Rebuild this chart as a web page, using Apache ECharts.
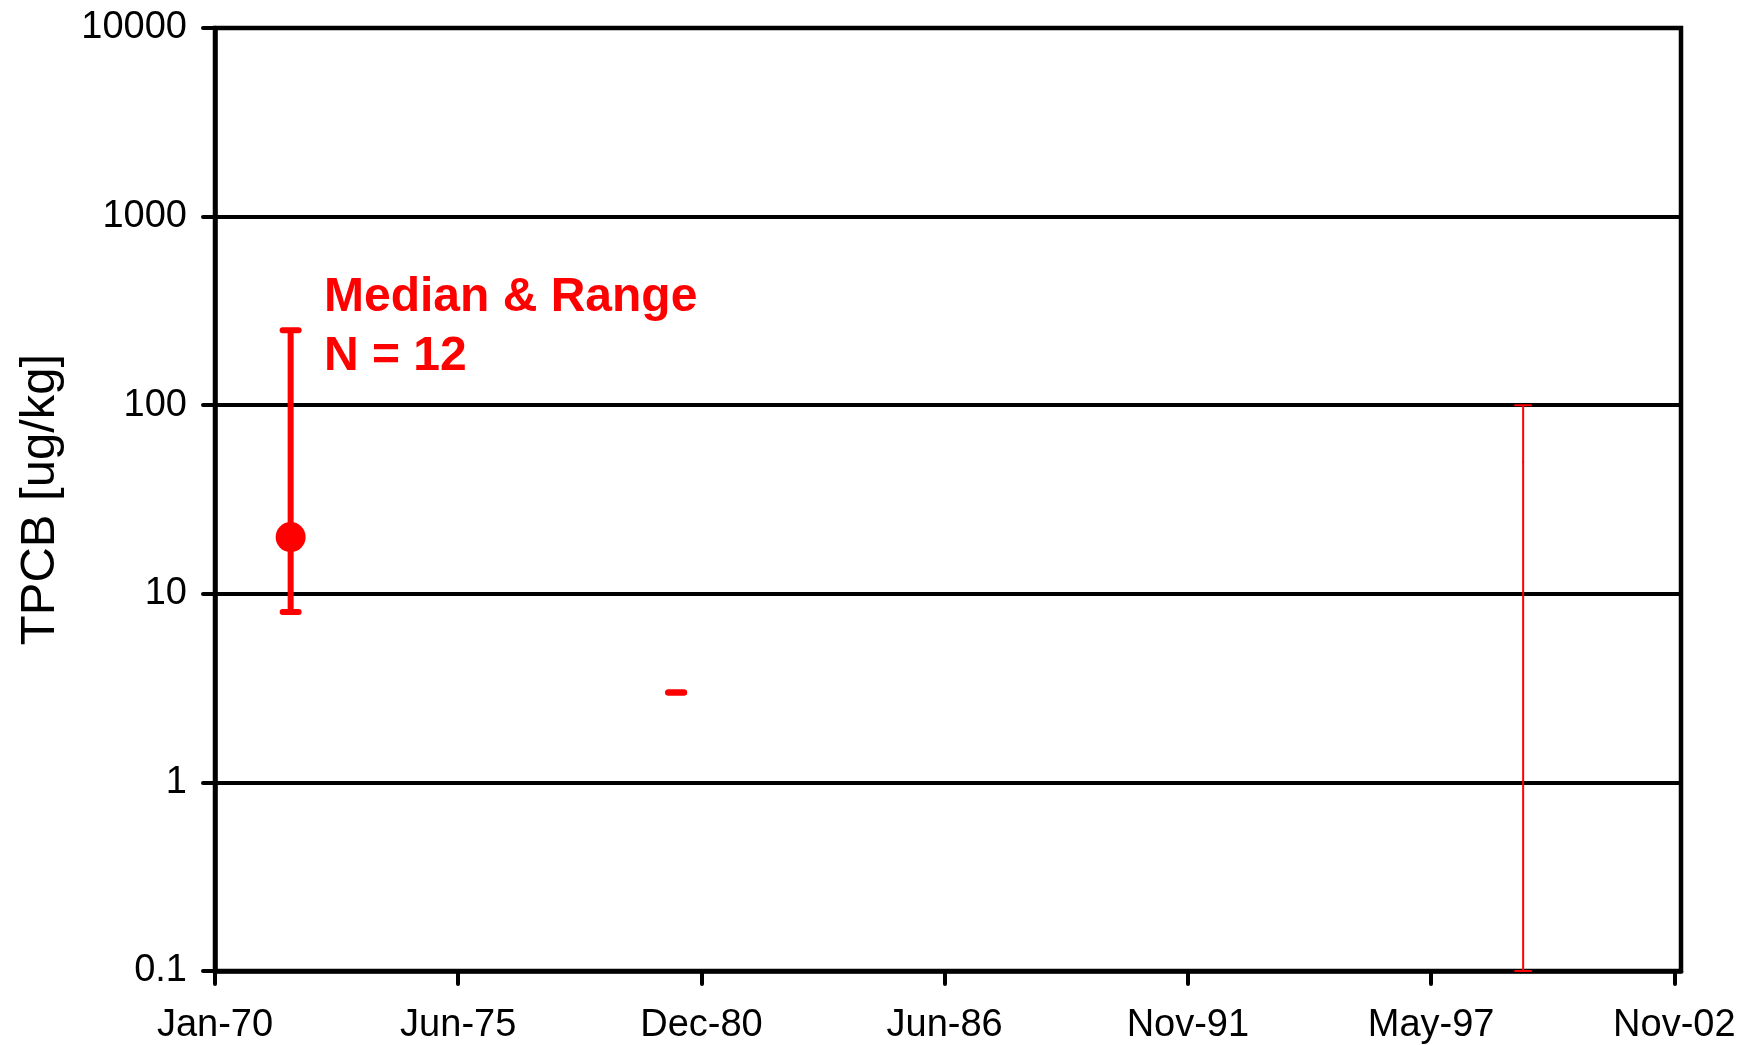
<!DOCTYPE html>
<html>
<head>
<meta charset="utf-8">
<script src="https://cdn.jsdelivr.net/npm/echarts@6/dist/echarts.min.js"></script>
<style>
html,body{margin:0;padding:0;background:#fff;}
#chart{width:1741px;height:1045px;}
</style>
</head>
<body>
<div id="chart"></div>
<script>
// ---- data ----
const sampleDates = ['1971-09-15', '1980-05-20', '1999-06-15'];
const rangeLow    = [8, 3, 0.1];
const medianVals  = [20, 3, 50];
const rangeHigh   = [250, 3, 100];
const xTickDays   = [0, 2000, 4000, 6000, 8000, 10000, 12000];
const xTickLabels = ['Jan-70', 'Jun-75', 'Dec-80', 'Jun-86', 'Nov-91', 'May-97', 'Nov-02'];
const yTickValues = [0.1, 1, 10, 100, 1000, 10000];
const yTickLabels = ['0.1', '1', '10', '100', '1000', '10000'];
const annotation  = ['Median & Range', 'N = 12'];
const yAxisTitle  = 'TPCB [ug/kg]';

// ---- helpers ----
const EPOCH = Date.UTC(1970, 0, 1);
function toDays(s) {
  const p = s.split('-').map(Number);
  return (Date.UTC(p[0], p[1] - 1, p[2]) - EPOCH) / 86400000;
}
const seriesData = sampleDates.map((d, i) => [toDays(d), rangeLow[i], medianVals[i], rangeHigh[i]]);

// per-point drawing styles (not data)
const pointStyles = [
  { lw: 6, cap: 8, r: 15 },
  { lw: 6, cap: 8, r: 0 },
  { lw: 2, cap: 8, r: 1 }
];

const chart = echarts.init(document.getElementById('chart'), null, { renderer: 'canvas' });

const option = {
  backgroundColor: '#ffffff',
  animation: false,
  grid: {
    left: 215, right: 60, top: 28, bottom: 73,
    show: true, borderColor: '#000', borderWidth: 4.5, backgroundColor: 'transparent'
  },
  xAxis: {
    type: 'value',
    min: 0,
    max: 12055,
    axisLine: { show: true, onZero: false, lineStyle: { color: '#000', width: 4.5 } },
    axisTick: {
      show: true, inside: false, length: 13,
      customValues: xTickDays,
      lineStyle: { color: '#000', width: 4, cap: 'round' }
    },
    axisLabel: {
      customValues: xTickDays,
      margin: 36,
      color: '#000',
      fontFamily: 'Liberation Sans, Arial, sans-serif',
      fontSize: 38,
      formatter: function (v) {
        const i = xTickDays.indexOf(Math.round(v));
        return i >= 0 ? xTickLabels[i] : '';
      }
    },
    splitLine: { show: false }
  },
  yAxis: {
    type: 'log',
    logBase: 10,
    min: 0.1,
    max: 10000,
    name: yAxisTitle,
    nameLocation: 'middle',
    nameRotate: 90,
    nameGap: 150,
    nameTextStyle: {
      color: '#000',
      fontFamily: 'Liberation Sans, Arial, sans-serif',
      fontSize: 49
    },
    axisLine: { show: true, lineStyle: { color: '#000', width: 4.5 } },
    axisTick: { show: true, inside: false, length: 12, lineStyle: { color: '#000', width: 4, cap: 'round' } },
    axisLabel: {
      margin: 28,
      color: '#000',
      fontFamily: 'Liberation Sans, Arial, sans-serif',
      fontSize: 38,
      formatter: function (v) {
        for (let i = 0; i < yTickValues.length; i++) {
          if (Math.abs(Math.log10(v) - Math.log10(yTickValues[i])) < 1e-6) return yTickLabels[i];
        }
        return '';
      }
    },
    splitLine: { show: true, lineStyle: { color: '#000', width: 4 } }
  },
  graphic: [{
    type: 'text',
    left: 324,
    top: 268,
    z: 100,
    style: {
      text: annotation.join('\n'),
      fill: '#ff0000',
      font: 'bold 48px "Liberation Sans", Arial, sans-serif',
      lineHeight: 59
    }
  }],
  series: [{
    type: 'custom',
    z: 10,
    clip: false,
    data: seriesData,
    renderItem: function (params, api) {
      const st = pointStyles[params.dataIndex];
      const x = api.value(0);
      const pLo = api.coord([x, api.value(1)]);
      const pMed = api.coord([x, api.value(2)]);
      const pHi = api.coord([x, api.value(3)]);
      const color = '#ff0000';
      const children = [
        { type: 'line', shape: { x1: pLo[0], y1: pLo[1], x2: pHi[0], y2: pHi[1] },
          style: { stroke: color, lineWidth: st.lw } },
        { type: 'line', shape: { x1: pLo[0] - st.cap, y1: pLo[1], x2: pLo[0] + st.cap, y2: pLo[1] },
          style: { stroke: color, lineWidth: st.lw, lineCap: 'round' } },
        { type: 'line', shape: { x1: pHi[0] - st.cap, y1: pHi[1], x2: pHi[0] + st.cap, y2: pHi[1] },
          style: { stroke: color, lineWidth: st.lw, lineCap: 'round' } }
      ];
      if (st.r > 0) {
        children.push({ type: 'circle', shape: { cx: pMed[0], cy: pMed[1], r: st.r }, style: { fill: color } });
      }
      return { type: 'group', children: children };
    }
  }]
};
chart.setOption(option);
</script>
</body>
</html>
